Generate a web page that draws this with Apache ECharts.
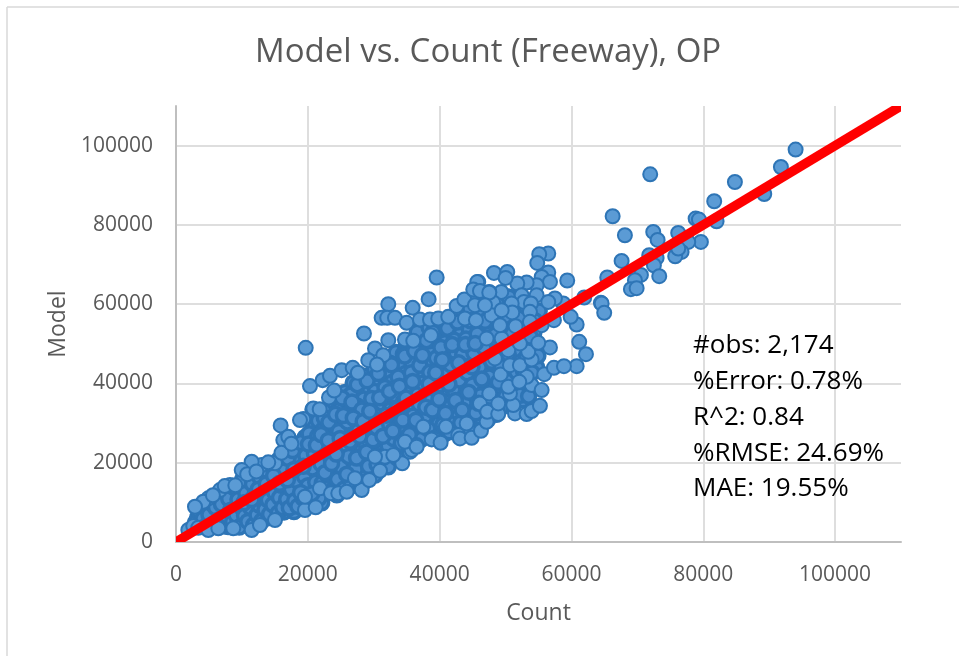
<!DOCTYPE html>
<html>
<head>
<meta charset="utf-8">
<title>Model vs. Count</title>
<script src="https://cdn.jsdelivr.net/npm/echarts@6/dist/echarts.min.js"></script>
<style>
  html, body { margin: 0; padding: 0; background: #fff; }
  #chart { width: 959px; height: 656px; }
</style>
</head>
<body>
<div id="chart"></div>
<script>
var statsLines = ['#obs: 2,174', '%Error: 0.78%', 'R^2: 0.84', '%RMSE: 24.69%', 'MAE: 19.55%'];
// runs past both axis ends, the grid clips it flat like the original
var fitLine = [[-10000, -10000], [120000, 120000]];

// sparse points, high end of the range
var highPoints = [
  [94010,99000],[91780,94610],[84800,90830],[89250,87800],[71950,92770],[81660,85970],[66250,82180],
  [78840,81600],[79340,81350],[82020,80920],[68110,77390],[72410,78230],[73070,76210],[76200,77970],
  [79640,75700],[77720,75700],[76710,73180],[75740,72100],[76200,74040],[71800,72350],[72920,71670],
  [72510,69830],[67610,70920],[73320,67060],[70540,67390],[69630,66050],[69020,63780],[69890,64030],
  [65430,66730],[64470,60330],[61940,61690],[59360,65970],[64580,60180],[64970,57810],[61180,50500],
  [62200,47390],[60790,44370],[60790,54880],[59880,56800],[58750,60180]
];
// upper edge of the cloud
var upperEdge = [
  [56480,72780],[55110,72600],[54810,70410],[56480,67990],[55480,66880],[56740,65620],[54720,64790],
  [54720,62270],[53200,65470],[51780,65220],[48240,67890],[50260,68140],[50010,66630],[49350,63100],
  [47530,63100],[45860,65620],[52440,62270],[52790,60580],[53850,60180],[53700,58060],[57490,61440],
  [56480,60580],[50930,60180],[51020,57910],[48130,60430],[47890,57230],[49410,58490],[39550,66730],
  [38330,61260],[32210,60000],[35910,59070],[31200,56550],[32050,56550],[33220,56550],[35000,55290],
  [37010,56140],[38530,56140],[39790,56390],[41310,56800],[42580,59570],[43740,61180],[45710,65620],
  [45100,63710],[46120,63350],[47530,62950],[45360,59750],[46880,59750],[43840,56390],[45510,55970],
  [32210,50920],[34740,51100],[36000,50750],[38680,52180],[30190,48830],[31450,47140],[28520,52610],
  [19680,48980],[20330,39330],[22250,40840],[23360,41930],[25140,43360],[26810,43940],[29170,45880],
  [23210,36480],[20680,33450],[19310,31010],[15880,29420],[16280,25710],[18810,30760],[20830,33710],
  [17040,26550],[15020,19840],[13000,19410],[11480,20240],[9970,18150],[8190,14370],[6670,13110],
  [4900,11020],[4140,10160],[2880,8900],[5600,11800],[7400,14100],[9000,14300],[10800,17100],[12200,17800],
  [14000,20100],[16000,22500],[17500,24800],[21800,33500],[24000,38200],[27600,42700],[30500,44800]
];
// lower edge of the cloud
var lowerEdge = [
  [1870,3030],[2620,4030],[3380,3600],[4900,3030],[6420,3450],[8690,3450],[11480,3030],[12740,4290],
  [15020,5550],[19570,8070],[21190,8750],[19570,11420],[21840,13540],[23510,12280],[24620,12280],
  [25900,12680],[28170,13110],[27150,16060],[29320,15630],[30950,17970],[31700,21500],[30190,21500],
  [34330,19840],[35500,22770],[36510,24450],[35760,23190],[34740,25290],[32970,21930],[36510,24030],
  [38790,25890],[40150,25030],[42830,26970],[43080,26140],[44860,26290],[46270,28060],[47380,30760],
  [47380,33280],[40960,29070],[37520,29070],[44100,29920],[46120,34970],[47530,37490],[48650,32020],
  [47130,30330],[47220,32850],[48890,32270],[48890,34970],[51430,32440],[51170,34540],[53200,32270],
  [53960,33030],[55220,34360],[50670,37490],[50410,39150],[53960,39580],[55480,38320],[53200,41670],
  [52080,40410],[49260,42280],[55870,42350],[57340,43940],[58860,44370],[50670,44620],[52180,44620],
  [48390,46310],[53960,46060],[53440,47970],[50410,48400],[56740,49080],[54960,50240],[52180,50090],
  [47130,51350],[49410,51350],[51530,54450],[49150,54710],[55480,54710],[57340,55970],[53700,55540]
];
// inside of the cloud, read roughly column by column
var bodyPoints = [
  [3300,6200],[3900,4900],[4400,7800],[4700,9400],[5200,5100],[5500,8100],[5800,6400],[6100,10400],[6400,4600],[6800,7300],
  [7100,11600],[7300,5600],[7700,9100],[7900,3900],[8200,12400],[8400,6900],[8700,10300],[9000,4800],[9200,8200],[9500,13100],
  [9700,5900],[10000,11200],[10200,7400],[10500,14800],[10700,4300],[11000,9600],[11200,12900],[11400,6200],[11700,16300],[11900,8300],
  [12200,10900],[12400,5200],[12700,14200],[12900,7300],[13100,17200],[13400,9800],[13600,12100],[13900,6100],[14100,15700],[14400,8800],
  [14600,18300],[14900,11300],[15100,6800],[15400,13800],[15600,20700],[15900,9400],[16100,16800],[16400,7600],[16600,12200],[16900,22700],
  [17100,14900],[17400,9900],[17600,19400],[17900,7700],[18100,24300],[18400,11700],[18600,16200],[18900,21400],[19100,9300],[19400,13700],
  [19600,26400],[19900,18100],[20100,10800],[20400,23600],[20600,15200],[20900,28700],[21100,12700],[21400,20300],[21600,30600],[21900,16900],
  [22100,9900],[22400,25100],[22600,13900],[22900,22200],[23100,33100],[23400,18400],[23600,28100],[23900,15400],[24100,35200],[24400,11900],
  [24600,24700],[24900,20700],[25100,31100],[25400,14600],[25600,37700],[25900,26900],[26100,17800],[26400,33800],[26600,23100],[26900,40200],
  [27100,14300],[27400,29200],[27600,19900],[27900,36100],[28100,25300],[28400,15800],[28600,41800],[28900,31600],[29100,21700],[29400,38200],
  [29600,17200],[29900,27800],[30100,43700],[30400,34100],[30600,23700],[30900,19100],[31100,40100],[31400,29600],[31600,45300],[31900,25600],
  [32100,36400],[32400,20600],[32600,42700],[32900,31800],[33100,23100],[33400,47800],[33600,38300],[33900,27700],[34100,22000],[34400,44300],
  [34600,33900],[34900,49300],[35100,26200],[35400,40600],[35600,30100],[35900,24200],[36100,46200],[36400,36100],[36600,52900],[36900,28300],
  [37100,42300],[37400,33100],[37600,48800],[37900,26700],[38100,38400],[38400,54200],[38600,30700],[38900,44700],[39100,28000],[39400,35300],
  [39600,50800],[39900,41100],[40100,32200],[40400,54900],[40600,27100],[40900,46800],[41100,37100],[41400,52100],[41600,30300],[41900,43200],
  [42100,34400],[42400,57300],[42600,39600],[42900,28400],[43100,49600],[43400,36200],[43600,54200],[43900,31100],[44100,45100],[44400,41200],
  [44600,58900],[44900,33700],[45100,50600],[45400,38100],[45600,61800],[45900,29300],[46100,47300],[46400,53900],[46600,35600],[46900,43200],
  [47100,39600],[47400,56100],[47600,46200],[47900,34300],[48100,49100],[48400,41100],[48600,53300],[48900,36700],[49100,45400],[49400,55800],
  [49600,39900],[49900,60900],[50100,43600],[50400,51600],[50600,34800],[50900,47200],[51100,41800],[51400,55900],[51600,37700],[51900,49300],
  [52100,46200],[52400,58800],[52600,35900],[52900,52700],[53100,43800],[53400,57100],[54100,48900],[54300,52900],[54700,44100],[55100,58300],
  [11100,13300],[12100,15300],[13200,11000],[14300,13000],[15300,16300],[16300,10100],[16700,19000],[17300,17000],[17800,12900],[18300,20800],
  [18800,14700],[19200,23500],[19800,12300],[20300,20800],[20800,25900],[21300,17800],[21800,23300],[22300,28300],[22800,19600],[23300,14200],
  [23800,26300],[24300,30600],[24800,17300],[25300,22900],[25800,34300],[26300,20300],[26800,28900],[27300,24300],[27800,32400],[28300,18000],
  [28800,27300],[29300,34800],[29800,24300],[30300,38300],[30800,31000],[31300,22700],[31800,35200],[32300,27900],[32800,40300],[33300,30400],
  [33800,25100],[34300,37300],[34800,42500],[35300,31900],[35800,45000],[36300,33800],[36800,39300],[37300,29800],[37800,44800],[38300,34900],
  [38800,47800],[39300,31100],[39800,44000],[40300,37700],[40800,50300],[41300,34100],[41800,47000],[42300,31000],[42800,42400],[43300,52700],
  [43800,38300],[44300,48900],[44800,36100],[45300,55900],[45800,42500],[46300,50900],[46800,37300],[47300,44000],[47800,53600],[48300,38900],
  [48800,47700],[49300,33900],[49800,42000],[50300,57100],[50800,36800],[51300,44400],[51800,53000],[52300,38700],[52800,48700],[53300,54000],
  [22500,31300],[24500,33100],[26500,37100],[28500,36100],[30500,41400],[32500,45100],[34500,47400],[36500,49600],[38500,50800],[40500,43300],
  [42500,47800],[44500,53700],[46500,57100],[48500,50700],[24200,19200],[26200,15300],[28200,23000],[30200,16900],[32200,19000],[34200,28900],
  [36200,26600],[38200,31900],[40200,35400],[42200,36900],[44200,33200],[46200,31500],[48200,43700],[25500,29300],[27500,34300],[29500,30300],
  [31500,32900],[33500,35300],[35500,38300],[37500,36300],[39500,38800],[41500,41300],[43500,44700],[45500,46300],[47500,48300],[49500,50300]
];
// second pass over the dense part, where the markers overlap most
var densePoints = [
  [3000,5000],[3600,7400],[4100,5900],[4500,3900],[5000,6900],[5300,9900],[5700,4300],[6000,8700],[6300,11300],[6600,5700],
  [6900,9500],[7200,4100],[7500,12700],[7800,6500],[8000,10900],[8300,8000],[8600,5200],[8900,13600],[9100,6800],[9400,10700],
  [9600,3800],[9900,8800],[10100,15700],[10400,6600],[10600,12300],[10900,5200],[11300,8700],[11600,14600],[11800,4300],[12000,12000],
  [12300,6800],[12600,9300],[12800,16100],[13000,5300],[13300,13300],[13500,8200],[13800,18000],[14000,10600],[14200,7000],[14500,15000],
  [14700,9400],[15000,12500],[15200,17600],[15500,7300],[15700,11200],[15800,19300],[16000,14300],[16200,8700],[16500,18000],[16800,10800],
  [17000,21100],[17200,8600],[17500,13300],[17700,23100],[18000,10400],[18200,15600],[18500,9000],[18700,18400],[19000,25100],[19300,11000],
  [19500,16500],[19700,21800],[20000,14200],[20200,27300],[20500,9700],[20700,18700],[21000,22300],[21200,15100],[21500,26700],[21700,11100],
  [22000,19700],[22200,14900],[22700,24100],[23000,16900],[23200,30200],[23500,21300],[23700,12900],[24000,24000],[24200,32200],[24500,15800],
  [24700,27900],[25000,19100],[25200,36300],[25500,13400],[25700,24600],[26000,30300],[26200,21600],[26500,15400],[26700,35300],[27000,26100],
  [27200,18400],[27500,39700],[27700,28100],[28000,21600],[28200,33300],[28500,15100],[28700,25100],[29000,40700],[29200,19100],[29500,29300],
  [29700,36200],[30000,22100],[30200,32300],[30500,19600],[30700,42500],[31000,26600],[31200,35100],[31500,21400],[31700,39000],[32000,29100],
  [32200,24300],[32500,33300],[32700,44700],[33000,26100],[33200,37200],[33500,21300],[33700,41600],[34000,31300],[34200,24900],[34500,35400],
  [34700,46900],[35000,28300],[35200,39000],[35500,23800],[35700,42700],[36000,31800],[36200,48200],[36500,28600],[36700,37200],[37000,44600],
  [37200,25900],[37500,40100],[37700,31600],[38000,50800],[38200,28600],[38500,42800],[38700,35600],[39000,52900],[39200,26200],[39500,46400],
  [39700,33100],[40000,39700],[40200,49100],[40500,29600],[40700,42000],[41000,35300],[41200,53900],[41500,27800],[41700,44700],[42000,38600],
  [42200,50900],[42500,33100],[42700,55500],[43000,40900],[43200,30100],[43500,47300],[43700,35000],[44000,51200],[44200,42700],[44500,28300],
  [44700,55800],[45000,39600],[45200,47700],[45500,32600],[45700,52500],[46000,44100],[46200,36900],[46500,60300],[46700,49100],[47000,33800],
  [47200,54800],[47500,41600],[47700,59000],[48000,36100],[48200,51400],[48500,44800],[48700,33500],[49000,56500],[49200,39300],[49500,47300],
  [49700,53300],[50000,36700],[50200,45200],[50500,61800],[50700,40500],[51000,52400],[51200,35900],[51500,48600],[51700,42900],[52000,56600],
  [52200,37000],[52500,51100],[52700,43300],[53000,59600],[53200,46700],[53500,36800],[53800,51700],[54000,42700],[54400,55900],[54900,47000],
  [10300,9900],[11500,10700],[12500,13300],[13700,14700],[14800,16700],[15700,14800],[16900,15700],[17900,18300],[18900,12500],[19300,19100],
  [20100,24700],[20600,12200],[21300,24400],[22000,27100],[22600,17500],[23100,25600],[23600,19800],[24300,22200],[24900,26100],[25400,31900],
  [25900,17100],[26400,25400],[26900,31300],[27400,21200],[27900,26700],[28400,30400],[28900,22700],[29400,33000],[29900,25800],[30400,28900],
  [30900,36400],[31400,26700],[31900,32000],[32400,38000],[32900,28000],[33400,33400],[33900,39300],[34400,30800],[34900,36300],[35400,27100],
  [35900,40500],[36400,30700],[36900,34800],[37400,47100],[37900,34000],[38400,39900],[38900,33300],[39400,42700],[39900,36000],[40400,46000],
  [40900,32500],[41400,39800],[41900,49800],[42400,35700],[42900,45200],[43400,33300],[43900,49800],[44400,37800],[44900,44200],[45400,50100],
  [45900,35000],[46400,41100],[46900,55700],[47400,35800],[47900,45600],[48400,52200],[48900,40300],[49400,44200],[49900,56900],[50400,47500]
];

var chart = echarts.init(document.getElementById('chart'));

chart.setOption({
  animation: false,
  textStyle: { fontFamily: '"Open Sans", sans-serif' },
  title: {
    text: 'Model vs. Count (Freeway), OP',
    left: 255,
    top: 36,
    padding: 0,
    textStyle: { fontSize: 33, fontWeight: 'normal', color: '#595959', fontFamily: '"Open Sans", sans-serif' }
  },
  grid: { left: 176, right: 58, top: 106, bottom: 114 },
  xAxis: {
    type: 'value',
    min: 0,
    max: 110000,
    interval: 20000,
    name: 'Count',
    nameLocation: 'middle',
    nameGap: 60,
    nameTextStyle: { fontSize: 23, color: '#595959' },
    axisLine: { show: true, lineStyle: { color: '#bfbfbf', width: 2 } },
    axisTick: { show: false },
    axisLabel: { fontSize: 21, color: '#595959', margin: 23, showMaxLabel: false, formatter: function (v) { return String(v); } },
    splitLine: { show: true, showMaxLine: false, lineStyle: { color: '#dedede', width: 2 } }
  },
  yAxis: {
    type: 'value',
    min: 0,
    max: 110000,
    interval: 20000,
    name: 'Model',
    nameLocation: 'middle',
    nameGap: 106,
    nameTextStyle: { fontSize: 23, color: '#595959' },
    axisLine: { show: true, lineStyle: { color: '#bfbfbf', width: 2 } },
    axisTick: { show: false },
    axisLabel: { fontSize: 21, color: '#595959', margin: 23, showMaxLabel: false, formatter: function (v) { return String(v); } },
    splitLine: { show: true, showMaxLine: false, lineStyle: { color: '#dedede', width: 2 } }
  },
  series: [
    {
      name: 'Model (inside)',
      type: 'scatter',
      data: bodyPoints.concat(densePoints),
      symbolSize: 14,
      itemStyle: { color: '#4b8dcc', borderColor: '#2E75B6', borderWidth: 3.5, opacity: 1 }
    },
    {
      name: 'Model',
      type: 'scatter',
      data: highPoints.concat(upperEdge, lowerEdge),
      symbolSize: 14,
      itemStyle: { color: '#5B9BD5', borderColor: '#2E75B6', borderWidth: 2, opacity: 1 }
    },
    {
      // custom series: a line series pads its clip by the line width, this one stops at the grid
      name: 'Fit',
      type: 'custom',
      clip: true,
      z: 5,
      data: fitLine,
      renderItem: function (params, api) {
        if (params.dataIndex !== 0) return;
        var from = api.coord(fitLine[0]);
        var to = api.coord(fitLine[1]);
        return {
          type: 'line',
          shape: { x1: from[0], y1: from[1], x2: to[0], y2: to[1] },
          style: { stroke: '#ff0000', lineWidth: 9.5, fill: null }
        };
      }
    }
  ],
  graphic: [
    { type: 'line', shape: { x1: 7, y1: 7, x2: 959, y2: 7 }, style: { stroke: '#d9d9d9', lineWidth: 1.5 } },
    { type: 'line', shape: { x1: 7, y1: 7, x2: 7, y2: 656 }, style: { stroke: '#d9d9d9', lineWidth: 1.5 } }
  ].concat(statsLines.map(function (line, i) {
    return {
      type: 'text',
      left: 693,
      top: 333 + i * 35.7,
      z: 10,
      style: { text: line, fontSize: 26, fill: '#000', fontFamily: '"Open Sans", sans-serif' }
    };
  }))
});
</script>
</body>
</html>
